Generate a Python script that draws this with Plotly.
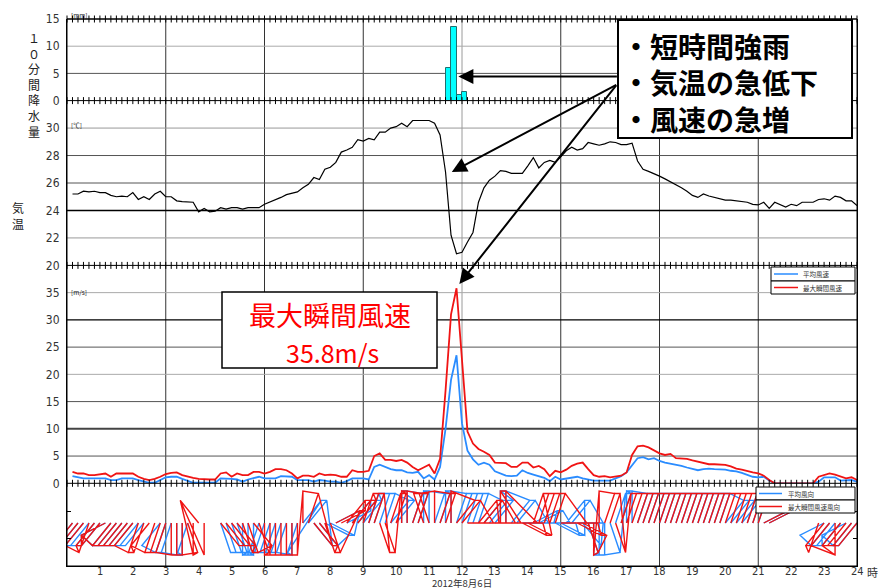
import math
import plotly.graph_objects as go

# ---------------------------------------------------------------------------
# 10-minute observations, 2012-08-06 (hours after midnight, 00:10 .. 24:00)
# ---------------------------------------------------------------------------
hours = [i / 6 for i in range(1, 145)]

temperature = [
    25.2, 25.2, 25.4, 25.35, 25.4, 25.3, 25.3, 25.1, 25.0, 25.05, 25.0, 25.3,
    24.8, 25.0, 24.8, 25.2, 25.4, 25.0, 25.0, 24.7, 24.65, 24.6, 24.6, 23.9,
    24.15, 23.9, 23.95, 24.2, 24.1, 24.2, 24.2, 24.1, 24.2, 24.2, 24.2, 24.45,
    24.6, 24.75, 24.95, 25.15, 25.25, 25.35, 25.65, 25.9, 26.4, 26.25, 27.0, 27.15,
    27.5, 28.25, 28.4, 28.6, 29.15, 29.05, 29.25, 29.15, 29.7, 29.7, 30.0, 30.1,
    30.35, 30.1, 30.55, 30.55, 30.55, 30.55, 30.35, 29.5, 26.8, 22.2, 20.85, 20.95,
    21.7, 22.4, 24.6, 25.65, 26.2, 26.5, 26.9, 26.85, 26.7, 26.7, 26.7, 27.25,
    27.85, 27.1, 27.5, 27.65, 27.5, 27.9, 28.35, 28.6, 28.4, 28.5, 28.95, 28.85,
    28.75, 28.85, 29.0, 28.95, 28.8, 28.8, 28.9, 27.6, 27.0, 26.85, 26.7, 26.5,
    26.3, 26.1, 25.9, 25.65, 25.4, 25.1, 24.95, 25.2, 25.05, 24.95, 24.8, 24.75,
    24.75, 24.7, 24.6, 24.6, 24.45, 24.4, 24.6, 24.15, 24.6, 24.45, 24.25, 24.45,
    24.35, 24.6, 24.6, 24.6, 24.8, 24.85, 24.75, 25.05, 24.95, 24.7, 24.7, 24.35,
]

wind_mean = [
    1.3, 1.1, 0.9, 0.9, 0.9, 0.9, 0.9, 0.6, 0.6, 0.9, 0.9, 0.9,
    0.6, 0.3, 0.1, 0.1, 0.6, 1.1, 1.2, 1.2, 0.8, 0.4, 0.1, 0.1,
    0.1, 0.1, 0.1, 0.9, 0.9, 0.8, 0.7, 0.3, 0.7, 1.0, 1.2, 0.9,
    0.9, 0.9, 1.3, 1.2, 1.2, 0.6, 0.6, 0.6, 0.3, 0.6, 0.5, 0.3,
    0.3, 0.1, 0.4, 0.9, 0.9, 0.9, 0.7, 3.0, 3.4, 3.0, 2.6, 2.4,
    2.4, 2.0, 1.9, 2.1, 0.9, 1.5, 0.7, 3.0, 10.0, 19.0, 23.5, 11.0,
    6.0, 4.4, 3.4, 3.8, 3.4, 2.2, 1.8, 1.4, 1.3, 1.4, 2.4, 1.9,
    1.6, 1.3, 1.0, 0.4, 1.2, 0.7, 0.9, 1.1, 1.2, 0.9, 0.7, 0.5,
    0.5, 0.5, 0.5, 0.9, 1.3, 2.0, 3.2, 4.6, 4.8, 4.4, 4.6, 4.1,
    3.8, 3.6, 3.5, 3.2, 2.9, 2.7, 2.4, 2.6, 2.7, 2.6, 2.6, 2.5,
    2.3, 2.2, 1.9, 1.5, 1.2, 1.1, 1.2, 0.5, 0.0, 0.0, 0.0, 0.0,
    0.0, 0.0, 0.0, 0.0, 0.3, 1.1, 1.1, 1.1, 0.5, 0.5, 0.6, 0.3,
]

wind_gust = [
    2.1, 1.8, 1.8, 1.5, 1.5, 1.6, 1.8, 1.2, 1.8, 1.8, 1.8, 1.8,
    1.2, 0.8, 0.6, 0.8, 1.2, 1.7, 1.9, 2.0, 1.5, 1.2, 1.0, 0.8,
    0.7, 0.7, 0.7, 1.8, 2.0, 1.2, 1.8, 1.5, 1.5, 2.1, 2.1, 1.8,
    2.1, 2.6, 2.6, 2.4, 1.8, 0.9, 1.4, 1.4, 1.2, 1.8, 1.5, 1.6,
    1.5, 1.2, 1.2, 2.4, 2.1, 2.1, 2.3, 5.0, 5.5, 4.3, 4.3, 4.1,
    4.3, 3.8, 3.0, 2.4, 2.9, 3.4, 1.8, 4.5, 17.0, 31.0, 35.8, 22.0,
    9.5, 7.3, 6.3, 5.8, 5.2, 3.8, 3.7, 3.7, 3.0, 3.0, 3.8, 3.8,
    2.9, 3.2, 2.6, 1.3, 2.3, 2.0, 2.5, 3.2, 3.6, 3.8, 2.6, 1.5,
    1.2, 1.3, 1.1, 1.2, 1.4, 2.0, 5.2, 6.8, 6.9, 6.6, 6.1, 5.5,
    5.2, 5.4, 4.6, 4.6, 4.5, 4.2, 4.0, 3.8, 3.5, 3.5, 3.5, 3.4,
    3.1, 2.7, 2.5, 2.2, 2.0, 1.8, 1.4, 0.6, 0.0, 0.0, 0.0, 0.0,
    0.0, 0.0, 0.0, 0.0, 1.2, 1.5, 1.8, 1.6, 1.2, 0.9, 1.1, 0.6,
]

# 16-point wind directions; "C" = calm (静穏)
dir_mean = """
SW SW SW SW SW SW WSW SW SW SW SW SW SW SW C C SW SSW
SSW S S SSW C C C C C
SSE SSE SSE SSE S S S SSW
SSW SSW SSW SSW SSW S SSW
NE NE SE SE ESE ESE
ENE C ENE NE NE NE
NNE NNE NNE NNE NE NE N N NNE NNE N N NNE NNE N N NNE NNE
NNE NNE NNE NE NE NE
N N NE NE E E
ENE ENE E E ESE ESE
NE NE E SE SSE S
S S SSE NNE NNE N
N NNE NNE NNE NNE NNE
NNE NNE NNE NNE NNE NNE NNE NNE NNE NNE NNE NE NE NE NE NNE NNE NNE
ENE ENE C C C C C C C C
C WSW SW SW SW WSW SW SW
""".split()

dir_gust = """
SW SW SW SSW SW SW WSW SW SW SW SW SW SSW SSW SW SSW SSW SSW
S S S SSE S NW S C C
SE SE SE SE SSE SSE SE SSE
S S S S S S S
N NNE SE SE SSE SSE
ENE ENE NE NE NE NNE
NNE NNE SSE SSE NNE NNE N N NNE NNE NNW NNW N NNE NNE N NE NE
E E NE NE E E
N N E E ESE ESE
NNE NNE NNE NNE NNE E
E E ESE ESE SSE S
N NNE NNE SSE NNE NNE
NNE NNE NNE NNE NNE NNE
NNE NNE NNE NNE NNE NNE NNE NNE NNE NNE NNE NNE NNE NNE NNE NNE NNE NNE
ENE ENE C C C C C C C C
SSW SW SW S SW SW SW SW
""".split()

# 10-minute precipitation (value at the end of each interval)
rain_hours = [11 + 40 / 60, 11 + 50 / 60, 12.0, 12 + 10 / 60]
rain_mm = [6.0, 13.5, 1.0, 1.5]

hour_ticks = list(range(1, 25))
rain_ticks = [0, 5, 10, 15]
temp_ticks = [20, 22, 24, 26, 28, 30]
wind_ticks = [0, 5, 10, 15, 20, 25, 30, 35]

# ---------------------------------------------------------------------------
# Page geometry (pixels)
# ---------------------------------------------------------------------------
W, H = 878, 588
PL, PR, PT, PB = 67, 857, 19, 566
Y_RAIN0, Y_TEMP20, Y_WIND0 = 100.6, 265.4, 483.3
DIR_BASE = 523
PX_PER_H = (PR - PL) / 24


def fx(px):
    return (px - PL) / (PR - PL)


def fy(py):
    return (PB - py) / (PB - PT)


DIR_H = PB - Y_WIND0          # direction panel uses pixel units on its y axis
base = PB - DIR_BASE

BLUE = "#2a8cff"
RED = "#f01414"
NARROW = "Liberation Sans Narrow, DejaVu Sans Condensed, Arial Narrow, sans-serif"
TICKFONT = dict(family=NARROW, size=12, color="#333333")
JP = "Noto Sans CJK JP"

COMPASS = ["N", "NNE", "NE", "ENE", "E", "ESE", "SE", "SSE",
           "S", "SSW", "SW", "WSW", "W", "WNW", "NW", "NNW"]
SHAFT_X, SHAFT_Y = 26, 32


def direction_path(codes):
    """Shaft from the base line toward the wind bearing; tips joined in time order."""
    xs, ys = [], []
    open_run = False
    for t, c in zip(hours, codes):
        if c == "C":
            if open_run:
                xs.append(None)
                ys.append(None)
            open_run = False
            continue
        a = math.radians(COMPASS.index(c) * 22.5)
        tx = t + SHAFT_X * math.sin(a) / PX_PER_H
        ty = base + SHAFT_Y * math.cos(a)
        xs += [tx, t, tx]
        ys += [ty, base, ty]
        open_run = True
    return xs, ys


fig = go.Figure()

# rain bars
fig.add_trace(go.Bar(
    x=[t - 1 / 12 for t in rain_hours], y=rain_mm, width=1 / 6,
    marker=dict(color="#00ffff", line=dict(color="#1f6f6f", width=1)),
    xaxis="x4", yaxis="y4", hoverinfo="skip"))

# temperature
fig.add_trace(go.Scatter(
    x=hours, y=temperature, mode="lines",
    line=dict(color="black", width=1.2), xaxis="x3", yaxis="y3"))

# wind speed
fig.add_trace(go.Scatter(
    x=hours, y=wind_mean, mode="lines",
    line=dict(color=BLUE, width=1.8), xaxis="x2", yaxis="y2"))
fig.add_trace(go.Scatter(
    x=hours, y=wind_gust, mode="lines",
    line=dict(color=RED, width=1.8), xaxis="x2", yaxis="y2"))

# wind direction
mx, my = direction_path(dir_mean)
gx, gy = direction_path(dir_gust)
fig.add_trace(go.Scatter(x=mx, y=my, mode="lines",
                         line=dict(color=BLUE, width=1.4), xaxis="x", yaxis="y"))
fig.add_trace(go.Scatter(x=gx, y=gy, mode="lines",
                         line=dict(color=RED, width=1.4), xaxis="x", yaxis="y"))

# 10-minute tick marks along the panel borders
tick_times = [i / 6 for i in range(0, 145)]
for ax_x, ax_y, level in [("x4", "y4", 15), ("x4", "y4", 0), ("x3", "y3", 20), ("x2", "y2", 0)]:
    fig.add_trace(go.Scatter(
        x=tick_times, y=[level] * len(tick_times), mode="markers",
        marker=dict(symbol="line-ns", size=5, line=dict(color="black", width=1)),
        xaxis=ax_x, yaxis=ax_y, cliponaxis=False, hoverinfo="skip"))

# ---------------------------------------------------------------------------
# Grid lines
# ---------------------------------------------------------------------------
shapes = []
for hr in [3, 6, 9, 12, 15, 18, 21]:
    shapes.append(dict(type="line", xref="x", yref="paper", x0=hr, x1=hr, y0=0, y1=1,
                       line=dict(color="#9a9a9a" if hr == 12 else "#333333", width=1),
                       layer="below"))

hgrid = [
    ("y4", 10, "#aaaaaa", 1), ("y4", 5, "#555555", 1),
    ("y3", 30, "#999999", 1), ("y3", 28, "#555555", 1), ("y3", 26, "#555555", 1),
    ("y3", 24, "#000000", 1.4), ("y3", 22, "#999999", 1),
    ("y2", 35, "#aaaaaa", 1), ("y2", 30, "#000000", 1.4), ("y2", 25, "#555555", 1),
    ("y2", 20, "#aaaaaa", 1), ("y2", 15, "#555555", 1), ("y2", 10, "#444444", 2),
    ("y2", 5, "#555555", 1),
]
for yref, v, col, w in hgrid:
    shapes.append(dict(type="line", xref="paper", yref=yref, x0=0, x1=1, y0=v, y1=v,
                       line=dict(color=col, width=w), layer="below"))

for py in [PT, Y_RAIN0, Y_TEMP20, Y_WIND0]:
    shapes.append(dict(type="line", xref="paper", yref="paper", x0=0, x1=1,
                       y0=fy(py), y1=fy(py), line=dict(color="black", width=1)))
shapes.append(dict(type="rect", xref="paper", yref="paper", x0=0, x1=1, y0=0, y1=1,
                   line=dict(color="black", width=1)))


# legends
def rect(x0, y0, x1, y1, lw=1):
    return dict(type="rect", xref="paper", yref="paper", x0=fx(x0), x1=fx(x1),
                y0=fy(y1), y1=fy(y0), line=dict(color="black", width=lw),
                fillcolor="white", layer="above")


def seg(x0, y0, x1, y1, col, lw):
    return dict(type="line", xref="paper", yref="paper", x0=fx(x0), x1=fx(x1),
                y0=fy(y0), y1=fy(y1), line=dict(color=col, width=lw), layer="above")


shapes += [rect(771, 267, 855, 281), rect(771, 281, 855, 294),
           seg(774, 274, 798, 274, BLUE, 1.5), seg(774, 287.5, 798, 287.5, RED, 1.5),
           rect(756, 487, 855, 500), rect(756, 500, 855, 513),
           seg(759, 493.5, 782, 493.5, BLUE, 1.5), seg(759, 506.5, 782, 506.5, RED, 1.5)]

# callout boxes
shapes += [rect(618, 20, 852, 138, 2), rect(222, 292, 437, 368, 1.5)]

annotations = []


def text(px, py, s, size, color="#333333", xanchor="left", family=JP, weight="normal",
         yanchor="middle", align="left"):
    annotations.append(dict(text=s, x=fx(px), y=fy(py), xref="paper", yref="paper",
                            xanchor=xanchor, yanchor=yanchor, showarrow=False,
                            borderpad=0, align=align,
                            font=dict(family=family, size=size, color=color, weight=weight)))


# arrows from the callout box
arrow_style = dict(showarrow=True, arrowhead=2, arrowsize=1.5, arrowwidth=2,
                   arrowcolor="black", text="", axref="pixel", ayref="pixel")
annotations += [
    dict(x=11.89, y=4.45, xref="x4", yref="y4", ax=160, ay=0, **arrow_style),
    dict(x=11.69, y=26.8, xref="x3", yref="y3", ax=166, ay=-88, **arrow_style),
    dict(x=11.92, y=36.6, xref="x2", yref="y2", ax=158, ay=-200, **arrow_style),
]

text(621, 83, "・短時間強雨<br>・気温の急低下<br>・風速の急増", 28, "black", weight="bold")

text(330, 315, "最大瞬間風速", 27, "#ff0000", "center")
text(332, 352, f"{max(wind_gust):.1f}m/s", 25, "#ff0000", "center")

# legend labels
text(802, 274, "平均風速", 6.5)
text(802, 287.5, "最大瞬間風速", 6.5)
text(787, 493.5, "平均風向", 6.5)
text(787, 506.5, "最大瞬間風速風向", 6.5)

# units and axis titles
text(70, 15, "[mm]", 6.5, "#222222")
text(70, 125, "[℃]", 6.5, "#222222")
text(70, 292, "[m/s]", 6.5, "#222222")
text(34, 85, "<br>".join("１０分間降水量"), 12, "#222222", "center", align="center")
text(18, 215, "<br>".join("気温"), 12, "#222222", "center", align="center")

# hour labels along the bottom axis
for h in hour_ticks:
    annotations.append(dict(text=str(h), x=h, y=fy(571.5), xref="x", yref="paper",
                            xanchor="center", yanchor="middle", showarrow=False,
                            borderpad=0, font=dict(family=NARROW, size=11, color="#333333")))
text(866, 571.5, "時", 11, "#333333", "left")
text(462, 582.5, "2012年8月6日", 9.5, "#333333", "center")

# ---------------------------------------------------------------------------
# Axes
# ---------------------------------------------------------------------------
d_dir = [0, fy(Y_WIND0)]
d_wind = [fy(Y_WIND0), fy(Y_TEMP20)]
d_temp = [fy(Y_TEMP20), fy(Y_RAIN0)]
d_rain = [fy(Y_RAIN0), 1]

hidden_x = dict(range=[0, 24], matches="x", showticklabels=False, showgrid=False,
                zeroline=False, showline=False, ticks="", automargin=False)


def yax(dom, rng, ticks):
    return dict(domain=dom, range=rng, tickvals=ticks, showgrid=False, zeroline=False,
                showline=True, linecolor="black", mirror=True, ticks="",
                tickfont=TICKFONT, ticklabelstandoff=4, fixedrange=True,
                automargin=False)


fig.update_layout(
    width=W, height=H,
    margin=dict(l=PL, r=W - PR, t=PT, b=H - PB, pad=0, autoexpand=False),
    paper_bgcolor="white", plot_bgcolor="white",
    showlegend=False, bargap=0,
    xaxis=dict(domain=[0, 1], range=[0, 24], anchor="y", showticklabels=False,
               showgrid=False, zeroline=False, showline=True, linecolor="black",
               ticks="", automargin=False),
    xaxis2=dict(anchor="y2", **hidden_x),
    xaxis3=dict(anchor="y3", **hidden_x),
    xaxis4=dict(anchor="y4", **hidden_x),
    yaxis=dict(domain=d_dir, range=[0, DIR_H], tickvals=[PB - 538, PB - 511],
               showticklabels=False, ticks="inside", ticklen=4, tickcolor="black",
               showgrid=False, zeroline=False, showline=True, linecolor="black",
               mirror="ticks", automargin=False),
    yaxis2=yax(d_wind, [0, 40], wind_ticks),
    yaxis3=yax(d_temp, [20, 32], temp_ticks),
    yaxis4=yax(d_rain, [0, 15], rain_ticks),
    shapes=shapes,
    annotations=annotations,
)

fig.write_html("out.html")
